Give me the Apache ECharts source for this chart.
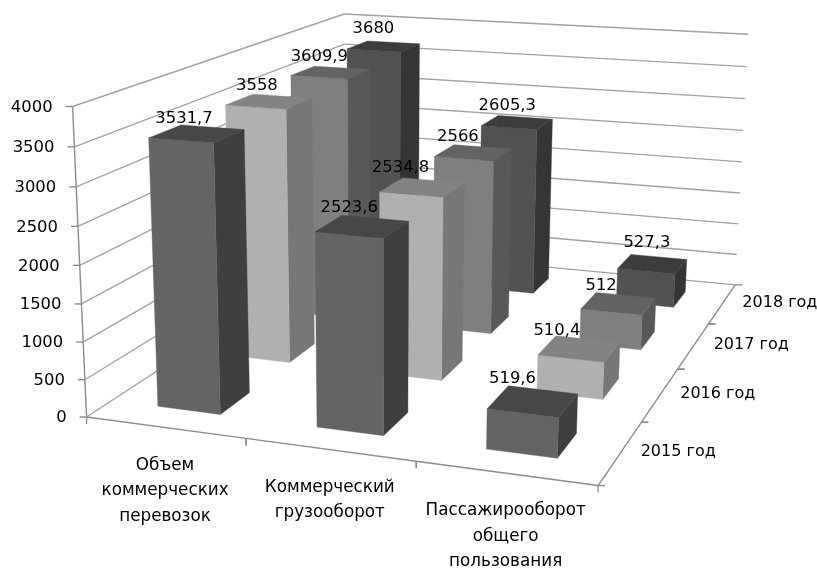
<!DOCTYPE html>
<html><head><meta charset="utf-8">
<style>html,body{margin:0;padding:0;background:#fff}#c{width:817px;height:570px}</style>
<script src="https://cdn.jsdelivr.net/npm/echarts@6/dist/echarts.min.js"></script>
</head><body><div id="c"></div>
<script>
var categories = ['Объем\nкоммерческих\nперевозок', 'Коммерческий\nгрузооборот', 'Пассажирооборот\nобщего\nпользования'];
var years = ['2015 год', '2016 год', '2017 год', '2018 год'];
var values2015 = [3531.7, 2523.6, 519.6];
var values2016 = [3558, 2534.8, 510.4];
var values2017 = [3609.9, 2566, 512];
var values2018 = [3680, 2605.3, 527.3];
var valueTicks = [0, 500, 1000, 1500, 2000, 2500, 3000, 3500, 4000];
var valueLabels = ['3531,7','2523,6','519,6','3558','2534,8','510,4','3609,9','2566','512','3680','2605,3','527,3'];
var seriesValues = [values2015, values2016, values2017, values2018];

// layout only: small nudges of each value label from its bar's top corner
var labelNudges = [[3,-6],[7,-8],[4,-7],[4,-8],[-2,-10],[1,-5],[5,-10],[4,-8],[5,-7],[6,-12],[9,-10],[16,-12]];
var faceColors = [
  {front:'#646464', top:'#474747', side:'#3f3f3f'},
  {front:'#b0b0b0', top:'#838383', side:'#777777'},
  {front:'#7f7f7f', top:'#636363', side:'#585858'},
  {front:'#525252', top:'#3d3d3d', side:'#353535'}
];
var FONT = '"DejaVu Sans"', FS = 16.4, CATFS = 16.8, YEARFS = 16, GRID = '#a2a2a2', AXIS = '#8c8c8c', LW = 1.4;
var barFrac = 0.4; // gap width 150%

// Camera: least-squares fit of a 3D -> 2D projective matrix (u, v, h in 0..1).
var cal = [
 [0,0,0,87.3,416.7],[1,0,0,598.3,485.7],[1,1,0,735,285],[0,1,0,345,248],
 [0,0,1,72.3,106.7],[0,1,1,343.3,13.3],[1,1,1,748.3,34],[0,0,.5,78.3,265],[1,1,.5,741.5,162],
 [.1,.075,0,158,406.7],[.2333,.075,0,220,414],[.1,.075,.8829,148.3,137.7],[.2333,.075,.8829,214,142.3],
 [.2333,.175,.8829,243.3,130],[.1,.175,.8829,183,125],
 [.7667,.075,.1299,487.3,409.3],[.7667,.075,0,487.3,449.3],[.9,.075,.1299,558.3,416.7],[.9,.075,0,557.3,457.7],[.9,.175,.1299,576.7,395],
 [.7667,.825,.1318,618.3,268.3],[.9,.825,.1318,675,274],[.9,.925,.1318,686.7,259.3],[.7667,.925,.1318,631,254.3],
 [.1,.825,.92,346.7,50],[.2333,.825,.92,400,51.7],[.2333,.925,.92,418.7,43.3],[.1,.925,.92,370,41.7]
];
var P = (function(){
  var n=11, A=[], b=[], i,j,k;
  for(i=0;i<n;i++){A.push(new Array(n).fill(0));b.push(0);}
  function add(r,t){for(var i=0;i<n;i++){b[i]+=r[i]*t;for(var j=0;j<n;j++)A[i][j]+=r[i]*r[j];}}
  cal.forEach(function(c){
    var u=c[0],v=c[1],h=c[2],x=c[3],y=c[4];
    add([u,v,h,1,0,0,0,0,-x*u,-x*v,-x*h],x);
    add([0,0,0,0,u,v,h,1,-y*u,-y*v,-y*h],y);
  });
  for(i=0;i<n;i++){
    var p=i;for(j=i+1;j<n;j++)if(Math.abs(A[j][i])>Math.abs(A[p][i]))p=j;
    var t=A[i];A[i]=A[p];A[p]=t;t=b[i];b[i]=b[p];b[p]=t;
    for(j=i+1;j<n;j++){var f=A[j][i]/A[i][i];for(k=i;k<n;k++)A[j][k]-=f*A[i][k];b[j]-=f*b[i];}
  }
  var m=new Array(n);
  for(i=n-1;i>=0;i--){var s=b[i];for(k=i+1;k<n;k++)s-=A[i][k]*m[k];m[i]=s/A[i][i];}
  return m;
})();
function proj(u,v,h){
  var w=P[8]*u+P[9]*v+P[10]*h+1;
  return [(P[0]*u+P[1]*v+P[2]*h+P[3])/w,(P[4]*u+P[5]*v+P[6]*h+P[7])/w];
}
function toU(params,px){var c=params.coordSys;return (px-c.x)/c.width;}
function toH(params,py){var c=params.coordSys;return (c.y+c.height-py)/c.height;}
function line(a,b,color){
  return {type:'line',shape:{x1:a[0],y1:a[1],x2:b[0],y2:b[1]},style:{stroke:color,lineWidth:LW}};
}
function text(t,x,y,align,va,extra){
  var s={text:t,x:x,y:y,align:align,verticalAlign:va,fill:'#000',fontFamily:FONT,fontSize:FS};
  if(extra)for(var k in extra)s[k]=extra[k];
  return {type:'text',style:s};
}
function poly(pts,fill){
  return {type:'polygon',shape:{points:pts},style:{fill:fill,stroke:fill,lineWidth:0.4}};
}
function barRender(row){
  return function(params,api){
    var cat=api.value(0),val=api.value(1);
    var p=api.coord([cat,val]),base=api.coord([cat,0]),band=api.size([1,0])[0];
    var u0=toU(params,p[0]-band*barFrac/2),u1=toU(params,p[0]+band*barFrac/2);
    var h=toH(params,p[1]),h0=toH(params,base[1]);
    var v0=(row+(1-barFrac)/2)/years.length,v1=(row+(1+barFrac)/2)/years.length;
    var c=faceColors[row];
    return {type:'group',children:[
      poly([proj(u1,v0,h0),proj(u1,v1,h0),proj(u1,v1,h),proj(u1,v0,h)],c.side),
      poly([proj(u0,v0,h0),proj(u1,v0,h0),proj(u1,v0,h),proj(u0,v0,h)],c.front),
      poly([proj(u0,v0,h),proj(u1,v0,h),proj(u1,v1,h),proj(u0,v1,h)],c.top)
    ]};
  };
}
function labelRender(row){
  return function(params,api){
    var cat=api.value(0),val=api.value(1);
    var p=api.coord([cat,val]),band=api.size([1,0])[0];
    var u0=toU(params,p[0]-band*barFrac/2),h=toH(params,p[1]);
    var v1=(row+(1+barFrac)/2)/years.length;
    var a=proj(u0,v1,h),n=labelNudges[row*3+cat];
    return text(valueLabels[row*3+cat],a[0]+n[0],a[1]+n[1],'center','middle');
  };
}
function gridRender(params,api){
  var p=api.coord([0,api.value(1)]),h=toH(params,p[1]);
  var a=proj(0,0,h),b=proj(0,1,h),c=proj(1,1,h);
  var kids=[line(a,b,GRID),line(b,c,GRID),line([a[0]-7,a[1]],a,AXIS),
    text(String(api.value(1)),a[0]-20,a[1]+1,'right','middle')];
  if(h<0.999){var t=api.coord([0,api.value(1)+500]);kids.push(line(a,proj(0,0,toH(params,t[1])),AXIS));}
  return {type:'group',children:kids};
}
function catRender(params,api){
  var i=api.value(0),n=categories.length;
  var a=proj(i/n,0,0),b=proj((i+1)/n,0,0),m=proj((i+.5)/n,0,0);
  return {type:'group',children:[
    line(a,b,AXIS),line(a,[a[0],a[1]+7],AXIS),line(b,[b[0],b[1]+7],AXIS),
    text(categories[i],m[0],m[1]+25,'center','top',{lineHeight:25.5,fontSize:CATFS})
  ]};
}
function yearRender(params,api){
  var i=api.value(0),n=years.length;
  var a=proj(1,i/n,0),b=proj(1,(i+1)/n,0),m=proj(1,(i+.5)/n,0);
  return {type:'group',children:[
    line(a,b,AXIS),line(a,[a[0]+7,a[1]],AXIS),line(b,[b[0]+7,b[1]],AXIS),
    text(years[i],m[0]+20,m[1]-1,'left','middle',{fontSize:YEARFS})
  ]};
}
var series=[
  {type:'custom',name:'grid',z:1,renderItem:gridRender,silent:true,data:valueTicks.map(function(v){return [0,v];})},
  {type:'custom',name:'categories',z:1,renderItem:catRender,silent:true,data:categories.map(function(c,i){return [i,0];})},
  {type:'custom',name:'years',z:1,renderItem:yearRender,silent:true,data:years.map(function(c,i){return [i,0];})}
];
seriesValues.forEach(function(vals,row){
  var d=vals.map(function(v,i){return [i,v];});
  series.push({type:'custom',name:years[row],z:10-row,renderItem:barRender(row),data:d});
  series.push({type:'custom',name:years[row]+' labels',z:20,renderItem:labelRender(row),data:d});
});
var chart=echarts.init(document.getElementById('c'),null,{renderer:'canvas'});
chart.setOption({
  animation:false,backgroundColor:'#fff',
  grid:{left:0,right:0,top:0,bottom:0},
  xAxis:{type:'category',show:false,data:categories},
  yAxis:{type:'value',show:false,min:0,max:4000,interval:500},
  series:series
});
</script></body></html>
